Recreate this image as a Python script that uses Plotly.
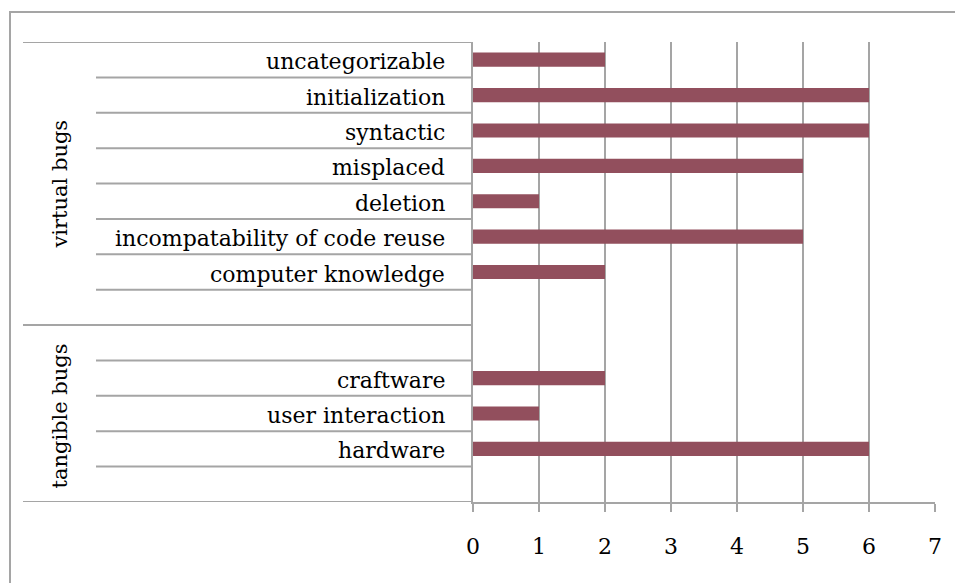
import plotly.graph_objects as go

# Bug categories, top to bottom; empty strings are spacer rows
categories = ["uncategorizable", "initialization", "syntactic", "misplaced", "deletion",
              "incompatability of code reuse", "computer knowledge", "",
              "", "craftware", "user interaction", "hardware", ""]
counts = [2, 6, 6, 5, 1, 5, 2, None, None, 2, 1, 6, None]

# Outer groups: (label, first row, last row)
groups = [("virtual bugs", 0, 7), ("tangible bugs", 8, 12)]

x_ticks = [0, 1, 2, 3, 4, 5, 6, 7]

W, H = 955, 583
L, R, T, B = 473, 20, 42, 81
pw, ph = W - L - R, H - T - B

def px_x(px):
    return (px - L) / pw

def px_y(py):
    return 1 - (py - T) / ph

FONT = "DejaVu Serif"
GRID = "#A5A5A5"
BAR = "#924F5D"

rows = list(range(len(categories)))

fig = go.Figure()
fig.add_trace(go.Bar(
    y=rows, x=counts, orientation="h", width=0.4,
    marker=dict(color=BAR, line=dict(width=0)),
    hoverinfo="skip",
))

shapes = []
annotations = []

# Category labels and the lines separating rows
for i, name in enumerate(categories):
    if name:
        annotations.append(dict(
            x=0, xref="paper", y=i, yref="y", text=name, showarrow=False,
            xanchor="right", yanchor="middle", xshift=-26, yshift=-2,
            font=dict(family=FONT, size=22, color="#000000"),
        ))

group_edges = set()
for label, first, last in groups:
    group_edges.add(first - 0.5)
    group_edges.add(last + 0.5)
    annotations.append(dict(
        x=px_x(60), xref="paper", y=(first + last) / 2, yref="y", text=label,
        showarrow=False, textangle=-90, xanchor="center", yanchor="middle",
        yshift=-1 if first == 0 else -3,
        font=dict(family=FONT, size=21, color="#000000"),
    ))

for k in range(len(categories) + 1):
    edge = k - 0.5
    x_start = px_x(23) if edge in group_edges else px_x(96)
    shapes.append(dict(
        type="line", xref="paper", yref="y", x0=x_start, x1=0, y0=edge, y1=edge,
        line=dict(color=GRID, width=2), layer="below",
    ))

# Chart border (only the top and left edges fall inside the page)
shapes.append(dict(
    type="rect", xref="paper", yref="paper",
    x0=px_x(10), x1=px_x(970), y0=px_y(600), y1=px_y(12),
    line=dict(color=GRID, width=2), fillcolor="rgba(0,0,0,0)", layer="below",
))

fig.update_layout(
    width=W, height=H,
    margin=dict(l=L, r=R, t=T, b=B, pad=0),
    paper_bgcolor="white", plot_bgcolor="white",
    showlegend=False, bargap=0.6,
    shapes=shapes, annotations=annotations,
    font=dict(family=FONT, size=22, color="#000000"),
    xaxis=dict(
        range=[0, 7], tickvals=x_ticks, ticktext=[str(v) for v in x_ticks],
        showgrid=True, gridcolor=GRID, gridwidth=2,
        showline=True, linecolor=GRID, linewidth=2,
        ticks="outside", ticklen=8, tickcolor=GRID, tickwidth=2,
        ticklabelstandoff=16,
        zeroline=False, fixedrange=True,
        tickfont=dict(family=FONT, size=22, color="#000000"),
    ),
    yaxis=dict(
        range=[len(categories) - 0.5, -0.5],
        showgrid=False, zeroline=False, showticklabels=False,
        showline=True, linecolor=GRID, linewidth=2, ticks="",
        fixedrange=True,
    ),
)

fig.write_html("out.html")
